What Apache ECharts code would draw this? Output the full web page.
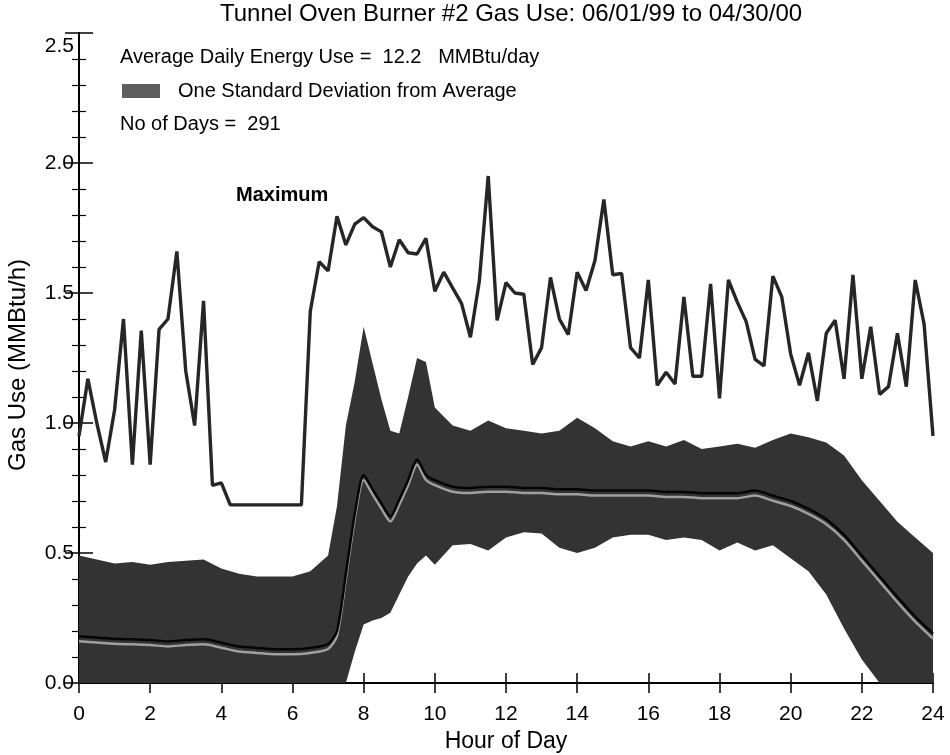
<!DOCTYPE html>
<html><head><meta charset="utf-8">
<script src="https://cdn.jsdelivr.net/npm/echarts@6/dist/echarts.min.js"></script>
<style>html,body{margin:0;padding:0;background:#fff}#c{width:950px;height:755px}</style>
</head><body><div id="c"></div>
<script>
// ---- data ----
const maxStep = 0.25; // hours between samples of the maximum curve
const maxUse = [
  0.95,1.17,1.00,0.85,
  1.05,1.40,0.84,1.355,
  0.84,1.36,1.40,1.66,
  1.20,0.99,1.47,0.76,
  0.77,0.685,0.685,0.685,
  0.685,0.685,0.685,0.685,
  0.685,0.685,1.43,1.62,
  1.585,1.795,1.685,1.765,
  1.79,1.755,1.735,1.60,
  1.705,1.655,1.65,1.71,
  1.507,1.58,1.52,1.46,
  1.33,1.545,1.95,1.395,
  1.54,1.50,1.495,1.225,
  1.29,1.56,1.40,1.34,
  1.58,1.51,1.625,1.86,
  1.57,1.575,1.29,1.25,
  1.55,1.145,1.195,1.15,
  1.485,1.18,1.18,1.535,
  1.095,1.55,1.465,1.39,
  1.245,1.22,1.565,1.485,
  1.265,1.145,1.27,1.085,
  1.345,1.395,1.17,1.57,
  1.17,1.37,1.11,1.14,
  1.345,1.14,1.55,1.38,
  0.95
];
const bandHours = [0,0.5,1,1.5,2,2.5,3,3.5,4,4.5,5,5.5,6,6.5,7,
  7.25,7.5,7.75,8,8.25,8.5,8.75,9,9.25,9.5,9.75,10,
  10.5,11,11.5,12,12.5,13,13.5,14,14.5,15,15.5,16,16.5,17,17.5,18,18.5,19,19.5,20,20.5,21,21.5,22,22.5,23,23.5,24];
const bandUpper = [0.49,0.475,0.46,0.465,0.455,0.465,0.47,0.475,0.44,0.42,0.41,0.41,0.41,0.43,0.49,
  0.68,0.99,1.16,1.37,1.23,1.09,0.97,0.96,1.10,1.25,1.235,1.06,
  0.99,0.97,1.01,0.98,0.97,0.96,0.97,1.02,0.98,0.93,0.91,0.93,0.91,0.935,0.90,0.91,0.92,0.905,0.935,0.96,0.945,0.925,0.875,0.78,0.70,0.62,0.56,0.50];
const bandLower = [0,0,0,0,0,0,0,0,0,0,0,0,0,0,0,
  0,0,0.12,0.225,0.24,0.25,0.27,0.34,0.41,0.46,0.49,0.455,
  0.53,0.535,0.51,0.56,0.58,0.575,0.52,0.50,0.52,0.56,0.57,0.57,0.55,0.56,0.55,0.51,0.54,0.51,0.53,0.48,0.43,0.34,0.21,0.09,0,0,0,0];
const avgUse = [0.18,0.175,0.17,0.168,0.165,0.16,0.165,0.168,0.155,0.14,0.135,0.13,0.13,0.135,0.15,
  0.20,0.42,0.65,0.80,0.745,0.69,0.64,0.705,0.78,0.86,0.80,0.78,
  0.755,0.75,0.755,0.755,0.75,0.75,0.745,0.745,0.74,0.74,0.74,0.74,0.735,0.735,0.73,0.73,0.73,0.74,0.72,0.70,0.67,0.63,0.57,0.49,0.41,0.33,0.255,0.19];
const avgDailyEnergy = '12.2';
const numDays = '291';

// ---- chart ----
const FONT = '"Liberation Sans", Arial, Helvetica, sans-serif';
const chart = echarts.init(document.getElementById('c'), null, {renderer: 'canvas'});
const maxData = maxUse.map((v, i) => [i * maxStep, v]);
const avgData = bandHours.map((h, i) => [h, avgUse[i]]);

const axisLineStyle = {color: '#000', width: 2};
const baseX = {
  type: 'value', min: 0, max: 24, interval: 2,
  axisLine: {show: true, lineStyle: axisLineStyle},
  axisTick: {show: true, inside: true, length: 10, lineStyle: {color: '#000', width: 1.5}},
  splitLine: {show: false}
};
const baseY = {
  type: 'value', min: 0, max: 2.5, interval: 0.5,
  axisLine: {show: true, lineStyle: axisLineStyle},
  axisTick: {show: true, inside: true, length: 14, lineStyle: {color: '#000', width: 1.5}},
  minorTick: {show: true, splitNumber: 5, length: 7, lineStyle: {color: '#000', width: 1.2}},
  splitLine: {show: false}
};

const option = {
  animation: false,
  backgroundColor: '#fff',
  title: {
    text: 'Tunnel Oven Burner #2 Gas Use: 06/01/99 to 04/30/00',
    left: 506, textAlign: 'center', top: -3,
    textStyle: {fontFamily: FONT, fontSize: 24, fontWeight: 'normal', color: '#000'}
  },
  grid: {left: 79, right: 17, top: 33, bottom: 72, containLabel: false, outerBoundsMode: 'none'},
  xAxis: [
    Object.assign({}, baseX, {
      position: 'bottom',
      axisLabel: {margin: 21, fontSize: 21, color: '#000', fontFamily: FONT},
      name: 'Hour of Day', nameLocation: 'middle', nameGap: 47,
      nameTextStyle: {fontSize: 23, color: '#000', fontFamily: FONT}
    }),
    Object.assign({}, baseX, {position: 'top', axisLabel: {show: false}})
  ],
  yAxis: [
    Object.assign({}, baseY, {
      position: 'left',
      axisLabel: {
        margin: 5, fontSize: 21, color: '#000', fontFamily: FONT,
        formatter: v => v === 2.5 ? '{t|2.5}' : v.toFixed(1),
        rich: {t: {fontSize: 21, fontFamily: FONT, color: '#000', padding: [26, 0, 0, 0]}}
      },
      name: 'Gas Use (MMBtu/h)', nameLocation: 'middle', nameGap: 49, nameRotate: 90,
      nameTextStyle: {fontSize: 24, color: '#000', fontFamily: FONT, padding: [0, 14, 0, 0]}
    }),
    Object.assign({}, baseY, {position: 'right', axisLabel: {show: false}})
  ],
  graphic: [
    {type: 'text', style: {x: 120, y: 57, text: 'Average Daily Energy Use =  ' + avgDailyEnergy + '   MMBtu/day',
      fontSize: 20, fontFamily: FONT, fill: '#000', verticalAlign: 'middle'}},
    {type: 'rect', shape: {x: 122, y: 84, width: 38, height: 14}, style: {fill: '#5e5e5e'}},
    {type: 'text', style: {x: 178, y: 91, text: 'One Standard Deviation from Average',
      fontSize: 20, fontFamily: FONT, fill: '#000', verticalAlign: 'middle'}},
    {type: 'text', style: {x: 120, y: 124, text: 'No of Days =  ' + numDays,
      fontSize: 20, fontFamily: FONT, fill: '#000', verticalAlign: 'middle'}},
    {type: 'text', style: {x: 236, y: 195, text: 'Maximum',
      fontSize: 20, fontWeight: 'bold', fontFamily: FONT, fill: '#000', verticalAlign: 'middle'}}
  ],
  series: [
    {
      type: 'custom', name: 'band', xAxisIndex: 0, yAxisIndex: 0, silent: true, z: 1,
      data: [[0, 0]],
      renderItem: function (params, api) {
        const pts = [];
        for (let i = 0; i < bandHours.length; i++) pts.push(api.coord([bandHours[i], bandUpper[i]]));
        for (let i = bandHours.length - 1; i >= 0; i--) pts.push(api.coord([bandHours[i], bandLower[i]]));
        return {type: 'polygon', shape: {points: pts}, style: {fill: '#333333'}};
      }
    },
    {
      type: 'line', name: 'average', data: avgData, showSymbol: false, smooth: 0.25, z: 3,
      lineStyle: {color: '#050505', width: 2.5, shadowColor: '#a0a0a0', shadowBlur: 0, shadowOffsetY: 5}
    },
    {
      type: 'line', name: 'maximum', data: maxData, showSymbol: false, z: 4,
      lineStyle: {color: '#262626', width: 3.4}
    }
  ]
};
chart.setOption(option);
</script>
</body></html>
